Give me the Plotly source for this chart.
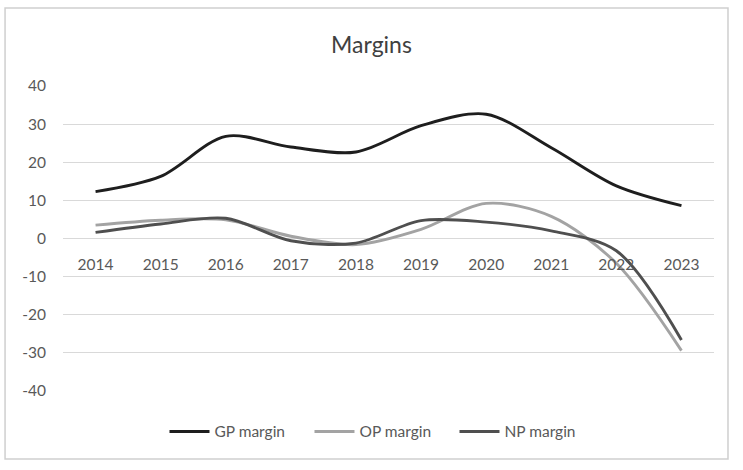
import plotly.graph_objects as go

years = ["2014", "2015", "2016", "2017", "2018", "2019", "2020", "2021", "2022", "2023"]
gp_margin = [12.3, 16.3, 26.8, 24.0, 22.7, 29.6, 32.6, 23.8, 13.8, 8.6]
op_margin = [3.5, 4.8, 4.9, 0.6, -1.6, 2.4, 9.2, 5.8, -6.5, -29.4]
np_margin = [1.6, 3.8, 5.3, -0.6, -1.2, 4.7, 4.3, 2.0, -3.2, -26.6]
y_ticks = [-40, -30, -20, -10, 0, 10, 20, 30, 40]
y_tick_labels = ["-40", "-30", "-20", "-10", "0", "10", "20", "30", "40"]

series = [
    ("GP margin", gp_margin, "#1e1e1e"),
    ("OP margin", op_margin, "#a3a3a3"),
    ("NP margin", np_margin, "#4f4f4f"),
]

FONT = "Lato"
fig = go.Figure()
for name, vals, col in series:
    fig.add_trace(go.Scatter(
        x=years, y=vals, name=name, mode="lines",
        line=dict(color=col, width=2.9, shape="spline", smoothing=0.9),
    ))

fig.update_layout(
    width=743, height=470,
    margin=dict(l=63, r=29, t=86, b=79, autoexpand=False),
    paper_bgcolor="white", plot_bgcolor="white",
    font=dict(family=FONT, color="#595959", size=15),
    title=dict(text="Margins", x=0.5, xanchor="center", y=0.905, yanchor="middle",
               font=dict(family=FONT, size=23, color="#404040")),
    showlegend=True,
    legend=dict(orientation="h", x=0.49, xanchor="center", y=-0.134, yanchor="middle",
                font=dict(family=FONT, size=15.5, color="#595959"),
                itemwidth=40, entrywidth=90, entrywidthmode="pixels",
                traceorder="normal"),
    xaxis=dict(type="category", range=[-0.5, 9.5], anchor="free", position=0.5,
               showgrid=False, automargin=False,
               showline=False, zeroline=False, ticks="", ticklabelstandoff=15,
               tickfont=dict(size=15.5, color="#595959")),
    yaxis=dict(range=[-40, 40], tickvals=y_ticks, ticktext=y_tick_labels,
               showgrid=True, gridcolor="#d9d9d9", automargin=False,
               gridwidth=1, zeroline=False, showline=False, ticks="",
               ticklabelstandoff=16, tickfont=dict(size=15.5, color="#595959")),
    shapes=[dict(type="rect", xref="paper", yref="paper", x0=-0.089, x1=1.0215,
                 y0=-0.223, y1=1.256, line=dict(color="#cfcfcf", width=1.5),
                 fillcolor="rgba(0,0,0,0)", layer="below")],
)

fig.write_html("out.html", config={"displayModeBar": False},
               post_script="document.body.style.margin='0';")
